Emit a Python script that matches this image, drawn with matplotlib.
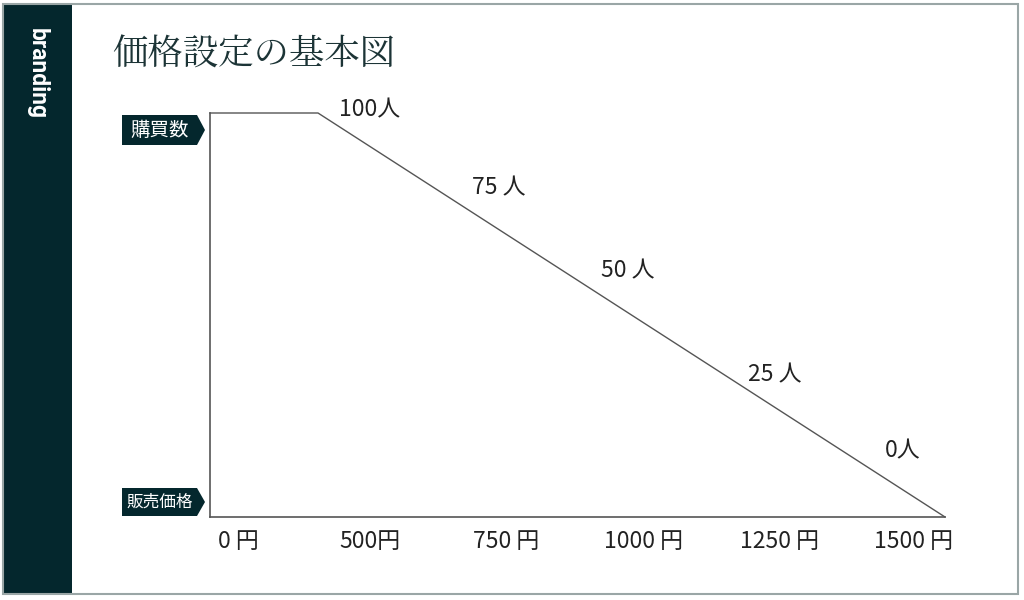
import numpy as np
import matplotlib
matplotlib.use("Agg")
import matplotlib.pyplot as plt
from matplotlib.patches import Rectangle, Polygon

plt.rcParams['font.family'] = ['Noto Sans CJK JP', 'DejaVu Sans']

# ---- data ----
title = "価格設定の基本図"
side_label = "branding"
y_tag = "購買数"
x_tag = "販売価格"
curve_price = [0, 500, 1500]
curve_buyers = [100, 100, 0]
price_labels = ["0 円", "500円", "750 円", "1000 円", "1250 円", "1500 円"]
buyer_labels = ["100人", "75 人", "50 人", "25 人", "0人"]

# ---- layout (pixel positions of annotation text) ----
W, H = 1024, 600
price_label_px = [238, 370, 506, 644, 780, 914]
price_label_py = 541
buyer_label_pos = [(370, 110), (499, 188), (628, 271), (775, 375), (903, 451)]

DARK = "#04272d"
LINE = "#555555"
TXT = "#222222"

fig = plt.figure(figsize=(W / 100, H / 100), dpi=100)
fig.patch.set_facecolor("white")

def fx(px):
    return px / W

def fy(py):
    return 1 - py / H

# frame and sidebar
fig.patches.append(Rectangle((fx(3), fy(594)), fx(1018) - fx(3), fy(4) - fy(594),
                             transform=fig.transFigure, facecolor="none",
                             edgecolor="#9aa6a6", lw=1.5, zorder=5))
fig.patches.append(Rectangle((fx(3), fy(594)), fx(72) - fx(3), fy(4) - fy(594),
                             transform=fig.transFigure, facecolor=DARK,
                             edgecolor="none", zorder=4))
fig.text(fx(37), fy(74), side_label, rotation=-90, ha="center", va="center",
         color="white", fontsize=16.5, fontweight="bold",
         family=["Roboto", "DejaVu Sans"], zorder=6)

# title
fig.text(fx(112), fy(55), title, ha="left", va="center", fontsize=25.5,
         color="#1c3436", family=["Noto Serif CJK JP", "Noto Sans CJK JP", "DejaVu Sans"])

# axes with piecewise price scale
left, right, top, bottom = 210, 945, 113, 517
ax = fig.add_axes([fx(left), fy(bottom), fx(right) - fx(left), fy(top) - fy(bottom)])
xp = [0, 500, 1500]
xd = [0, 108, 735]
ax.set_xscale("function", functions=(lambda v: np.interp(v, xp, xd),
                                     lambda v: np.interp(v, xd, xp)))
ax.plot(curve_price, curve_buyers, color=LINE, lw=1.0, clip_on=False)
ax.set_xlim(0, 1500)
ax.set_ylim(0, 100)
for s in ["top", "right"]:
    ax.spines[s].set_visible(False)
for s in ["left", "bottom"]:
    ax.spines[s].set_color(LINE)
    ax.spines[s].set_linewidth(1.2)
ax.set_xticks([])
ax.set_yticks([])
ax.patch.set_alpha(0)

# tick-like labels
for lab, px in zip(price_labels, price_label_px):
    fig.text(fx(px), fy(price_label_py), lab, ha="center", va="center",
             fontsize=16.5, color=TXT)
for lab, (px, py) in zip(buyer_labels, buyer_label_pos):
    fig.text(fx(px), fy(py), lab, ha="center", va="center",
             fontsize=16.5, color=TXT)

# tags
def tag(text, y0, y1, size):
    pts = [(fx(122), fy(y0)), (fx(197), fy(y0)), (fx(205), fy((y0 + y1) / 2)),
           (fx(197), fy(y1)), (fx(122), fy(y1))]
    fig.patches.append(Polygon(pts, closed=True, transform=fig.transFigure,
                               facecolor=DARK, edgecolor="none"))
    fig.text(fx(160), fy((y0 + y1) / 2), text, ha="center", va="center",
             color="white", fontsize=size)

tag(y_tag, 115, 145, 14)
tag(x_tag, 488, 516, 12)

fig.savefig("out.png", dpi=100)
